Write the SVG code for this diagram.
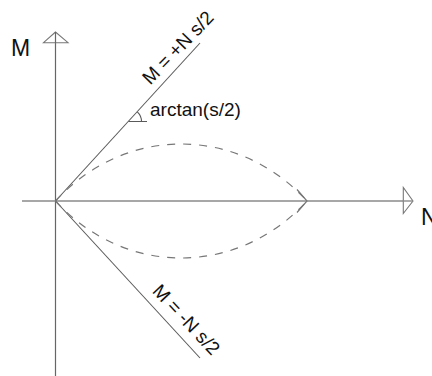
<svg xmlns="http://www.w3.org/2000/svg" width="432" height="376" viewBox="0 0 432 376">
<style>
  .ax { stroke: #666; stroke-width: 1.2; fill: none; }
  .axh { stroke: #8a8a8a; stroke-width: 1.4; fill: none; }
  .head { stroke: #777; stroke-width: 1.1; fill: #fff; }
  .diag { stroke: #5a5a5a; stroke-width: 1.1; fill: none; }
  .dash { stroke: #777; stroke-width: 1.2; fill: none; stroke-dasharray: 8 8; }
  .chev { stroke: #777; stroke-width: 1.2; fill: none; }
  .lbl { font-family: "Liberation Sans", Arial, sans-serif; fill: #111; }
</style>
<rect width="432" height="376" fill="#fff"/>
<g id="connectors">
  <line class="ax" x1="55.5" y1="376" x2="55.5" y2="32"/>
  <line class="axh" x1="22" y1="201" x2="413" y2="201"/>
  <line class="diag" x1="55.5" y1="201" x2="200" y2="43"/>
  <line class="diag" x1="55.5" y1="201" x2="200" y2="358"/>
  <path class="dash" d="M55.5,201 C125,125 237.5,125 307,201"/>
  <path class="dash" d="M55.5,201 C125,277 237.5,277 307,201"/>
  <polyline class="chev" points="297,189.5 307,201 297,212.5"/>
  <polygon class="head" points="55.5,32 43.5,42.7 68,42.7"/>
  <polygon class="head" points="413,201 403.3,187.5 403.3,213.5"/>
  <line class="ax" x1="55.5" y1="43" x2="55.5" y2="32"/>
  <line class="axh" x1="403" y1="201" x2="413" y2="201"/>
  <path class="diag" d="M128.5,121.5 H147 M137.3,111.9 A13,13 0 0 1 141.5,121.5"/>
</g>
<g id="axis-M"><text class="lbl" x="11" y="56" font-size="23">M</text></g>
<g id="axis-N"><text class="lbl" x="421" y="225" font-size="23">N</text></g>
<g id="label-upper"><text class="lbl" font-size="19" transform="translate(150.3,85.5) rotate(-46)">M = +N s/2</text></g>
<g id="label-lower"><text class="lbl" font-size="19" transform="translate(151.6,291.8) rotate(47)">M = -N s/2</text></g>
<g id="label-angle"><text class="lbl" x="150" y="116" font-size="19">arctan(s/2)</text></g>
</svg>
